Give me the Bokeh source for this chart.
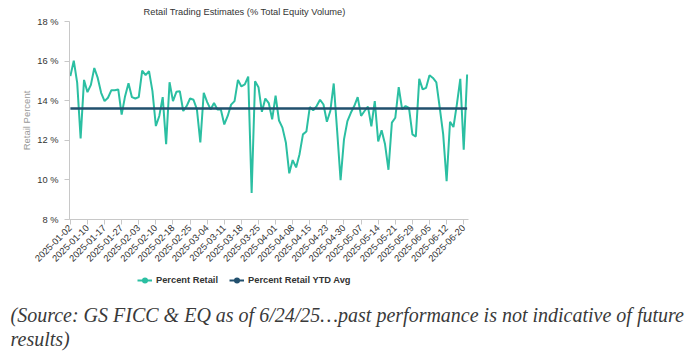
from bokeh.plotting import figure
from bokeh.layouts import column
from bokeh.models import (ColumnDataSource, Range1d, FixedTicker, PrintfTickFormatter,
                          Legend, LegendItem, Title, CDSView, IndexFilter)
from bokeh.embed import file_html
from bokeh.resources import INLINE
import math

TITLE = "Retail Trading Estimates (% Total Equity Volume)"
Y_LABEL = "Retail Percent"
SERIES_NAMES = ["Percent Retail", "Percent Retail YTD Avg"]
SOURCE_LINES = ["(Source: GS FICC & EQ as of 6/24/25\u2026past performance is not indicative of future",
                "results)"]

# x tick labels (every 5th trading day)
TICK_LABELS = ["2025-01-02", "2025-01-10", "2025-01-17", "2025-01-27", "2025-02-03", "2025-02-10",
               "2025-02-18", "2025-02-25", "2025-03-04", "2025-03-11", "2025-03-18", "2025-03-25",
               "2025-04-01", "2025-04-08", "2025-04-15", "2025-04-23", "2025-04-30", "2025-05-07",
               "2025-05-14", "2025-05-21", "2025-05-29", "2025-06-05", "2025-06-12", "2025-06-20"]
TICK_STEP = 5

# Percent Retail, one value per trading day (2025-01-02 .. 2025-06-23)
PCT_RETAIL = [
    15.24, 16.02, 14.90, 12.10, 15.05, 14.43, 14.80, 15.65, 15.15, 14.40,
    13.98, 14.15, 14.53, 14.53, 14.57, 13.30, 14.23, 14.88, 14.18, 14.11,
    14.18, 15.52, 15.29, 15.49, 14.48, 12.72, 13.23, 14.18, 11.80, 14.93,
    13.98, 14.45, 14.48, 13.48, 13.73, 14.11, 14.05, 13.56, 11.89, 14.40,
    13.93, 13.56, 13.88, 13.56, 13.56, 12.80, 13.23, 13.80, 13.98, 15.05,
    14.72, 14.82, 15.22, 9.34, 14.98, 14.68, 13.44, 14.11, 13.88, 13.06,
    14.25, 13.00, 12.64, 11.89, 10.33, 11.00, 10.63, 11.30, 12.30, 12.44,
    13.68, 13.51, 13.73, 14.05, 13.81, 12.94, 13.48, 14.87, 12.47, 9.99,
    12.05, 12.97, 13.39, 13.73, 14.18, 13.23, 13.48, 13.70, 12.71, 13.98,
    11.94, 12.51, 11.80, 10.51, 12.89, 13.14, 14.68, 13.56, 13.73, 13.64,
    12.30, 12.19, 15.10, 14.57, 14.65, 15.29, 15.15, 14.93, 13.64, 12.30,
    9.93, 12.94, 12.67, 13.81, 15.10, 11.53, 15.32,
]
YTD_AVG = 13.6
Y_TICKS = [8, 10, 12, 14, 16, 18]

TEAL = "#2bbfa2"
NAVY = "#22506e"
AXIS_GREY = "#c8c8c8"
FONT = "Liberation Sans"

n = len(PCT_RETAIL)
idx = list(range(n))
src = ColumnDataSource(dict(x=idx, y=PCT_RETAIL, avg=[YTD_AVG] * n))

# ---------------- main chart ----------------
p = figure(width=700, height=267, output_backend="svg", toolbar_location=None,
           x_range=Range1d(-0.25, n - 0.6), y_range=Range1d(8, 18),
           min_border_left=69, min_border_right=232, min_border_top=20, min_border_bottom=48)
p.outline_line_color = None
p.xgrid.visible = False
p.ygrid.visible = False

p.title.text = TITLE
p.title.align = "left"
p.title.offset = 74
p.title.standoff = 9
p.title.text_font = FONT
p.title.text_font_style = "normal"
p.title.text_font_size = "9.3px"
p.title.text_color = "#333333"

p.line("x", "y", source=src, color=TEAL, line_width=2)
p.line("x", "avg", source=src, color=NAVY, line_width=2.5)

ya = p.yaxis[0]
ya.ticker = FixedTicker(ticks=Y_TICKS)
ya.formatter = PrintfTickFormatter(format="%d %%")
ya.axis_line_color = AXIS_GREY
ya.major_tick_line_color = AXIS_GREY
ya.major_tick_out = 5
ya.major_tick_in = 0
ya.minor_tick_line_color = None
ya.major_label_standoff = 6
ya.major_label_text_font = FONT
ya.major_label_text_font_size = "9.3px"
ya.major_label_text_color = "#333333"
ya.axis_label = Y_LABEL
ya.axis_label_text_font = FONT
ya.axis_label_text_font_style = "normal"
ya.axis_label_text_font_size = "9.5px"
ya.axis_label_text_color = "#999999"
ya.axis_label_standoff = 2

xa = p.xaxis[0]
tick_pos = [TICK_STEP * k for k in range(len(TICK_LABELS))]
xa.ticker = FixedTicker(ticks=tick_pos)
xa.major_label_overrides = {t: lab for t, lab in zip(tick_pos, TICK_LABELS)}
xa.major_label_orientation = math.pi / 4
xa.axis_line_color = AXIS_GREY
xa.major_tick_line_color = AXIS_GREY
xa.major_tick_out = 5
xa.major_tick_in = 0
xa.minor_tick_line_color = None
xa.major_label_standoff = 2
xa.major_label_text_font = FONT
xa.major_label_text_font_size = "9.3px"
xa.major_label_text_color = "#333333"

# ---------------- legend + source note ----------------
q = figure(width=700, height=86, output_backend="svg", toolbar_location=None,
           x_axis_location=None, y_axis_location=None,
           x_range=Range1d(-0.25, n - 0.6), y_range=Range1d(0, 1),
           min_border_left=69, min_border_right=232, min_border_top=0, min_border_bottom=52)
q.grid.visible = False
q.outline_line_color = None

def key_view():
    return CDSView(filter=IndexFilter(indices=[0]))

l1 = q.line("x", "y", source=src, view=key_view(), color=TEAL, line_width=2)
d1 = q.scatter("x", "y", source=src, view=key_view(), marker="circle", size=0, color=TEAL, line_width=0)
l2 = q.line("x", "avg", source=src, view=key_view(), color=NAVY, line_width=2)
d2 = q.scatter("x", "avg", source=src, view=key_view(), marker="circle", size=0, color=NAVY, line_width=0)

legend = Legend(items=[LegendItem(label=SERIES_NAMES[0], renderers=[l1, d1]),
                       LegendItem(label=SERIES_NAMES[1], renderers=[l2, d2])],
                location=(68, 12), orientation="horizontal",
                glyph_width=15, glyph_height=18, label_standoff=4, spacing=11,
                padding=0, margin=0, border_line_color=None, background_fill_alpha=0,
                label_text_font=FONT, label_text_font_style="bold",
                label_text_font_size="9.3px", label_text_color="#333333")
q.add_layout(legend)

for line in SOURCE_LINES:
    q.add_layout(Title(text=line, align="left", offset=-59, standoff=0,
                       text_font="Liberation Serif", text_font_style="italic",
                       text_font_size="20px", text_color="#3a3a3a"), "below")

open("out.html", "w").write(file_html(column(p, q, spacing=0), INLINE))
